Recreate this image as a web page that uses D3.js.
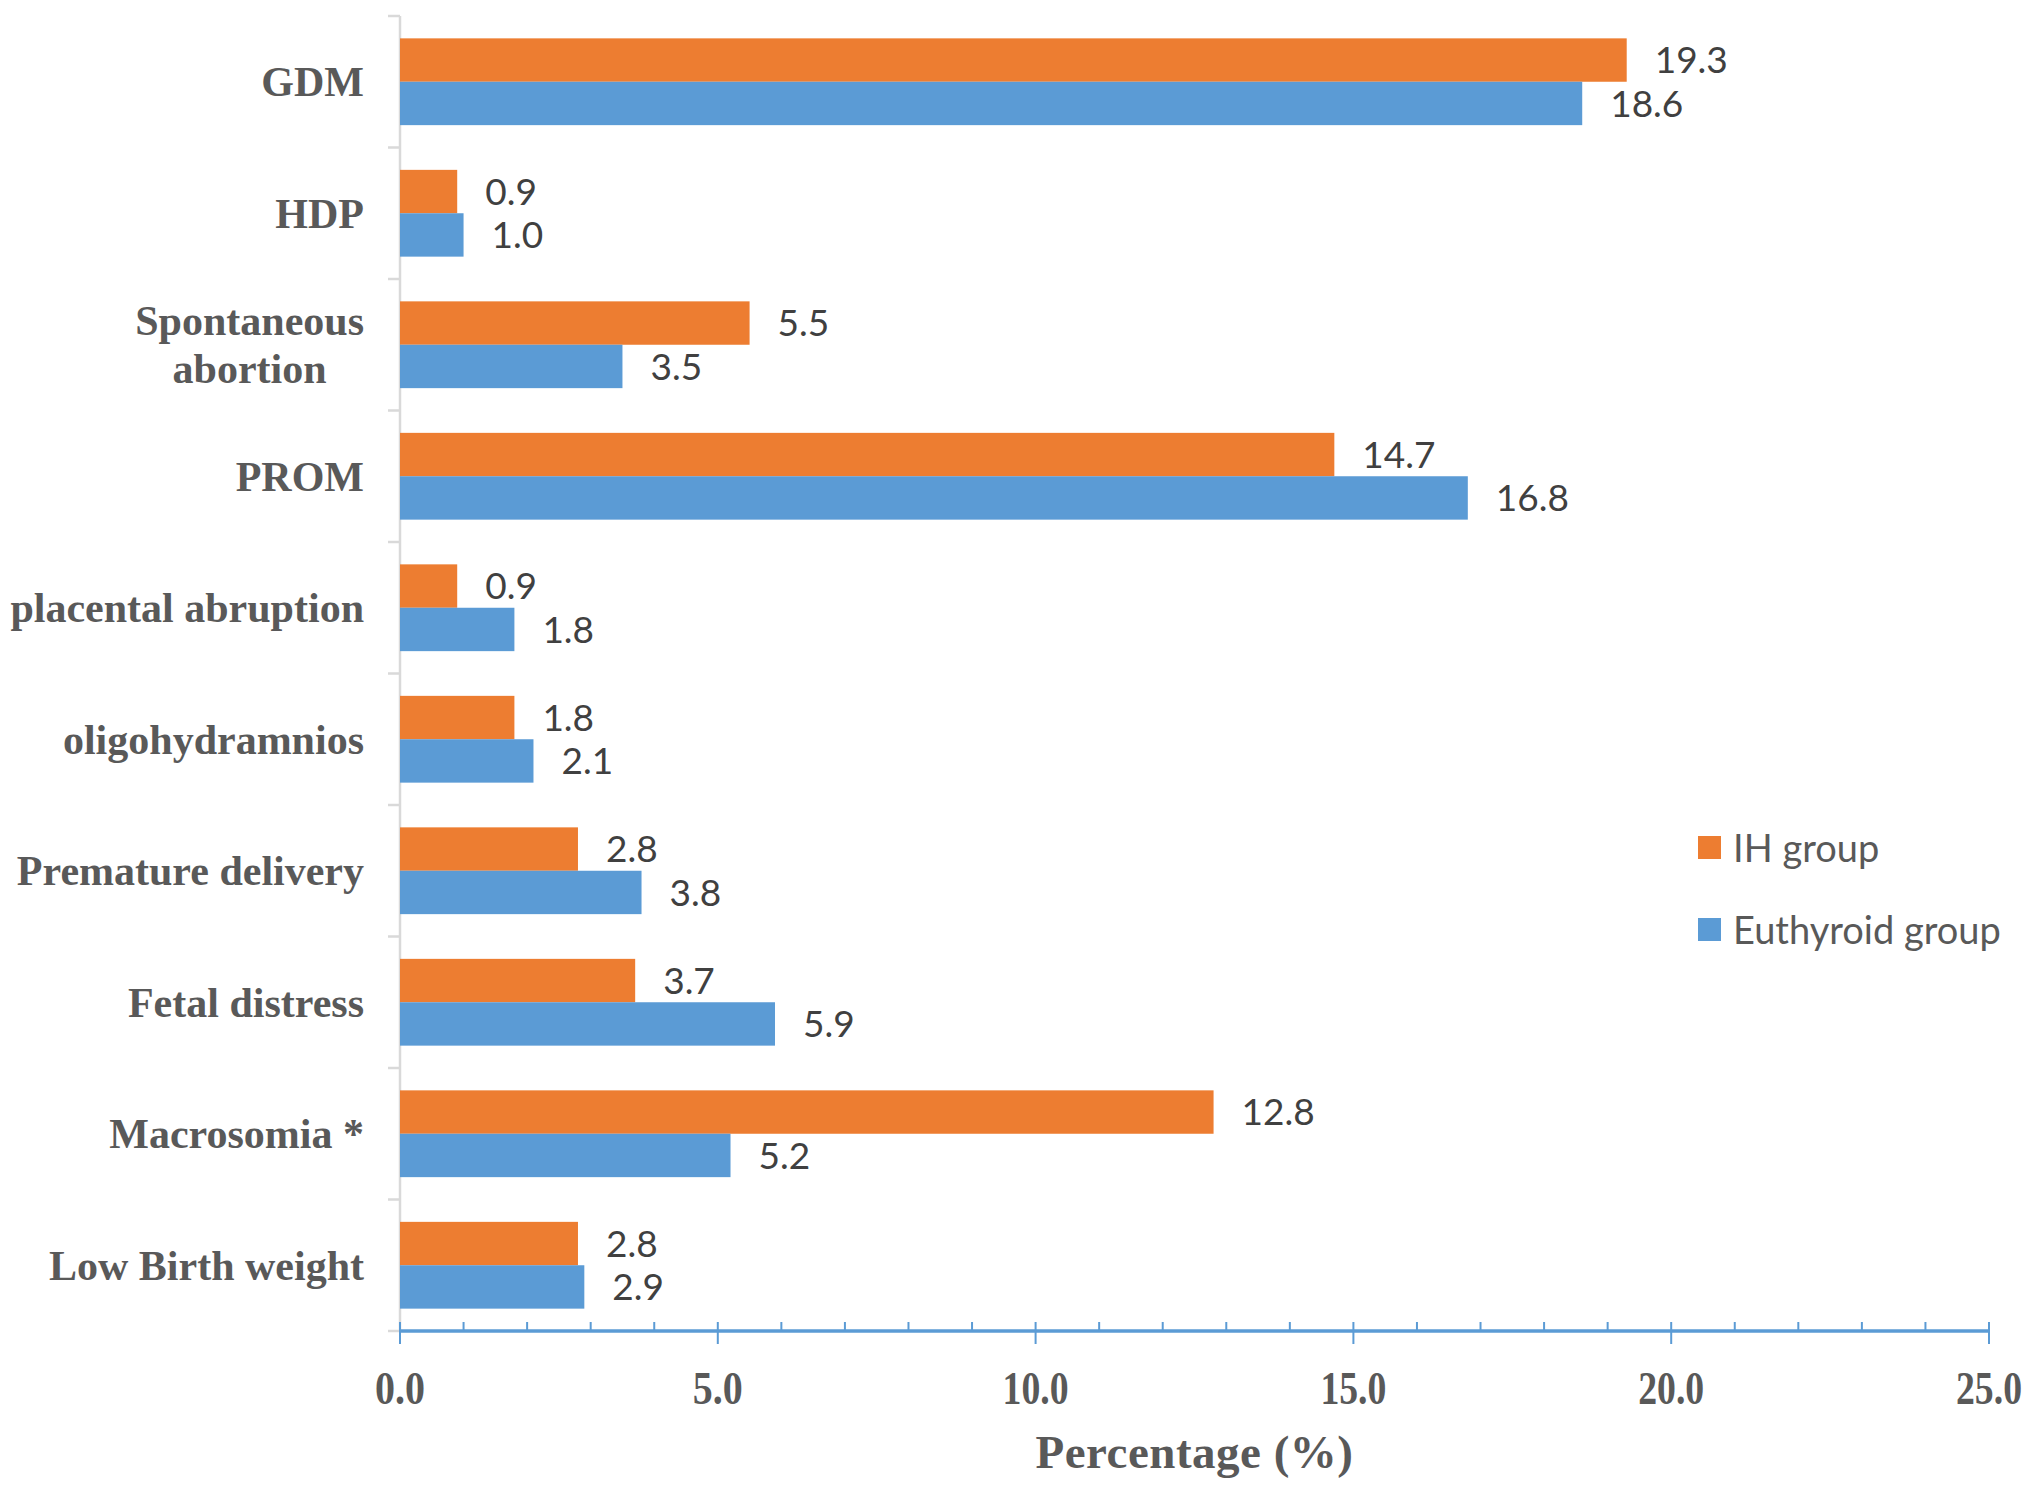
<!DOCTYPE html>
<html>
<head>
<meta charset="utf-8">
<script src="https://cdn.jsdelivr.net/npm/d3@7"></script>
<style>
  html, body { margin: 0; padding: 0; background: #fff; }
  svg { display: block; }
</style>
</head>
<body>
<svg id="chart" width="2036" height="1492"></svg>
<script>
const categories = ["GDM", "HDP", "Spontaneous\nabortion", "PROM", "placental abruption",
  "oligohydramnios", "Premature delivery", "Fetal distress", "Macrosomia *", "Low Birth weight"];
const seriesNames = ["IH group", "Euthyroid group"];
const ihValues = [19.3, 0.9, 5.5, 14.7, 0.9, 1.8, 2.8, 3.7, 12.8, 2.8];
const euValues = [18.6, 1.0, 3.5, 16.8, 1.8, 2.1, 3.8, 5.9, 5.2, 2.9];
const xTickValues = [0, 5, 10, 15, 20, 25];
const xMinorTickValues = d3.range(0, 26, 1);

const colors = { "IH group": "#ED7D31", "Euthyroid group": "#5B9BD5" };
const serif = "'Liberation Serif', 'Times New Roman', serif";
const sans = "Lato, 'Open Sans', sans-serif";

const svg = d3.select("#chart");
const pLeft = 400, pRight = 1989, pTop = 16, pBottom = 1331;

const x = d3.scaleLinear().domain([0, 25]).range([pLeft, pRight]);
const y = d3.scaleBand().domain(categories).range([pTop, pBottom])
  .paddingInner(0.34).paddingOuter(0.17);
const ySub = d3.scaleBand().domain(seriesNames).range([0, y.bandwidth()]);

const rows = categories.map((c, i) => ({ cat: c, vals: [
  { s: "IH group", v: ihValues[i] }, { s: "Euthyroid group", v: euValues[i] }] }));

// Y axis (gray, ticks at band boundaries)
const step = y.step();
const yAxisG = svg.append("g");
yAxisG.append("line").attr("x1", pLeft).attr("x2", pLeft).attr("y1", pTop).attr("y2", pBottom)
  .attr("stroke", "#d9d9d9").attr("stroke-width", 2.5);
d3.range(categories.length + 1).forEach(i => {
  const yy = pTop + i * step;
  yAxisG.append("line").attr("x1", pLeft - 12).attr("x2", pLeft).attr("y1", yy).attr("y2", yy)
    .attr("stroke", "#d9d9d9").attr("stroke-width", 2.5);
});

// Bars
const groups = svg.append("g").selectAll("g").data(rows).join("g")
  .attr("transform", d => `translate(0,${y(d.cat)})`);
groups.selectAll("rect").data(d => d.vals).join("rect")
  .attr("x", x(0))
  .attr("y", d => ySub(d.s))
  .attr("width", d => x(d.v) - x(0))
  .attr("height", ySub.bandwidth())
  .attr("fill", d => colors[d.s]);
groups.selectAll("text").data(d => d.vals).join("text")
  .attr("x", d => x(d.v) + 28)
  .attr("y", d => ySub(d.s) + ySub.bandwidth() / 2)
  .attr("dy", "0.36em")
  .attr("font-family", sans).attr("font-size", 37).attr("fill", "#404040")
  .text(d => d3.format(".1f")(d.v));

// Category labels
const labelRight = 364;
const catG = svg.append("g");
categories.forEach(c => {
  const lines = c.split("\n");
  const cy = y(c) + y.bandwidth() / 2;
  const t = catG.append("text")
    .attr("font-family", serif).attr("font-weight", "bold").attr("font-size", 42)
    .attr("fill", "#595959");
  const lh = 48;
  lines.forEach((ln, j) => {
    t.append("tspan").attr("y", cy + (j - (lines.length - 1) / 2) * lh).attr("dy", "0.35em").text(ln);
  });
  if (lines.length === 1) {
    t.attr("text-anchor", "end").selectAll("tspan").attr("x", labelRight);
  } else {
    let maxW = 0;
    t.selectAll("tspan").each(function () { maxW = Math.max(maxW, this.getComputedTextLength()); });
    t.attr("text-anchor", "middle").selectAll("tspan").attr("x", labelRight - maxW / 2);
  }
});

// X axis (blue)
const axisY = pBottom;
const xAxisG = svg.append("g");
xAxisG.append("line").attr("x1", x(0)).attr("x2", x(25)).attr("y1", axisY).attr("y2", axisY)
  .attr("stroke", "#5B9BD5").attr("stroke-width", 3.5);
xAxisG.selectAll("line.minor").data(xMinorTickValues).join("line").attr("class", "minor")
  .attr("x1", d => x(d)).attr("x2", d => x(d)).attr("y1", axisY - 9).attr("y2", axisY)
  .attr("stroke", "#5B9BD5").attr("stroke-width", 2);
xAxisG.selectAll("line.major").data(xTickValues).join("line").attr("class", "major")
  .attr("x1", d => x(d)).attr("x2", d => x(d)).attr("y1", axisY).attr("y2", axisY + 13)
  .attr("stroke", "#5B9BD5").attr("stroke-width", 2);
xAxisG.selectAll("text").data(xTickValues).join("text")
  .attr("x", d => x(d)).attr("y", 1404)
  .attr("text-anchor", "middle")
  .attr("font-family", serif).attr("font-weight", "bold").attr("font-size", 46)
  .attr("fill", "#595959")
  .attr("textLength", d => d < 10 ? 50 : 66).attr("lengthAdjust", "spacingAndGlyphs")
  .text(d => d3.format(".1f")(d));

// Axis title
svg.append("text").attr("x", (pLeft + pRight) / 2).attr("y", 1468)
  .attr("text-anchor", "middle")
  .attr("font-family", serif).attr("font-weight", "bold").attr("font-size", 47)
  .attr("fill", "#595959").attr("letter-spacing", 0.5)
  .text("Percentage (%)");

// Legend
const legend = svg.append("g");
seriesNames.forEach((s, i) => {
  const ly = 848 + i * 82;
  legend.append("rect").attr("x", 1698).attr("y", ly - 12).attr("width", 23).attr("height", 23)
    .attr("fill", colors[s]);
  legend.append("text").attr("x", 1733).attr("y", ly).attr("dy", "0.36em")
    .attr("font-family", sans).attr("font-size", 38).attr("fill", "#595959").text(s);
});
</script>
</body>
</html>
